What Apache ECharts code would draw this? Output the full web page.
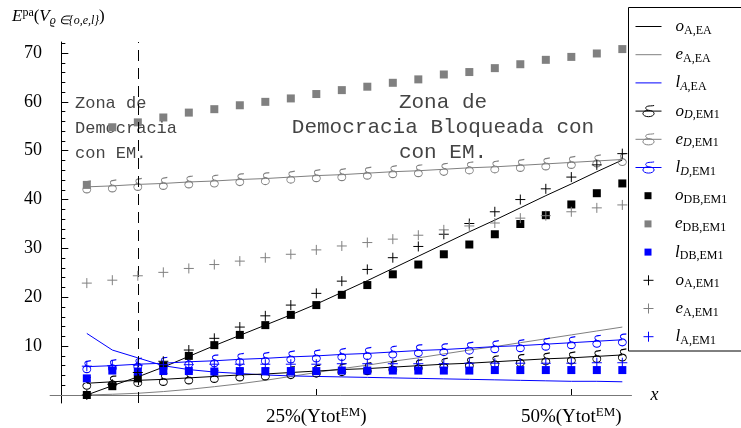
<!DOCTYPE html>
<html>
<head>
<meta charset="utf-8">
<script src="https://cdn.jsdelivr.net/npm/echarts@6/dist/echarts.min.js"></script>
<style>
  html, body { margin: 0; padding: 0; background: #fff; }
  #main { width: 741px; height: 428px; }
</style>
</head>
<body>
<div id="main"></div>
<script>
// x positions (% of Ytot^EM)
const xPct = [2.5, 5, 7.5, 10, 12.5, 15, 17.5, 20, 22.5, 25, 27.5, 30, 32.5, 35, 37.5, 40, 42.5, 45, 47.5, 50, 52.5, 55]
const zoneLimit = 7.5
const xTickValues = [25, 50]
const yTickValues = [10, 20, 30, 40, 50, 60, 70]
const yMinorValues = [2, 4, 6, 8, 12, 14, 16, 18, 22, 24, 26, 28, 32, 34, 36, 38, 42, 44, 46, 48, 52, 54, 56, 58, 62, 64, 66, 68, 72]

// EA curves (lines only)
const oAEA = [0, 1.9, 3.7, 5.7, 7.9, 10.1, 12.2, 14.3, 16.4, 18.6, 21.0, 23.4, 25.9, 28.4, 30.9, 33.4, 35.8, 38.3, 40.8, 43.2, 45.7, 48.1]
const eAEA = [0, 0.15, 0.35, 0.7, 1.15, 1.7, 2.3, 3.0, 3.8, 4.6, 5.4, 6.1, 6.9, 7.6, 8.4, 9.2, 9.9, 10.7, 11.5, 12.3, 13.1, 13.9]
const lAEA = [12.6, 9.2, 7.6, 6.0, 5.2, 4.7, 4.4, 4.1, 3.9, 3.8, 3.7, 3.6, 3.5, 3.4, 3.3, 3.2, 3.1, 3.0, 2.9, 2.8, 2.8, 2.7]
// D, EM1 (line + delta)
const oDEM1 = [2.4, 2.7, 3.0, 3.2, 3.5, 3.8, 4.1, 4.3, 4.6, 4.9, 5.2, 5.4, 5.7, 6.0, 6.3, 6.5, 6.8, 7.1, 7.4, 7.6, 7.9, 8.2]
const eDEM1 = [42.6, 42.8, 43.1, 43.3, 43.6, 43.8, 44.1, 44.3, 44.6, 44.9, 45.1, 45.4, 45.7, 45.9, 46.2, 46.5, 46.7, 47.0, 47.3, 47.6, 47.9, 48.2]
const lDEM1 = [5.8, 6.0, 6.3, 6.5, 6.8, 7.0, 7.3, 7.5, 7.8, 8.0, 8.3, 8.5, 8.8, 9.1, 9.3, 9.6, 9.9, 10.1, 10.4, 10.7, 11.0, 11.3]
// DB, EM1 (squares)
const oDBEM1 = [0, 1.8, 3.4, 6.0, 8.0, 10.2, 12.3, 14.3, 16.4, 18.4, 20.5, 22.5, 24.7, 26.7, 28.8, 30.8, 32.9, 35.0, 36.8, 39.0, 41.3, 43.3]
const eDBEM1 = [43.0, 54.8, 55.8, 56.8, 57.8, 58.5, 59.3, 60.0, 60.7, 61.6, 62.4, 63.1, 63.9, 64.6, 65.6, 66.1, 66.9, 67.7, 68.6, 69.2, 69.9, 70.8]
const lDBEM1 = [3.4, 5.0, 4.8, 4.9, 4.9, 4.8, 4.9, 4.9, 4.9, 4.9, 5.0, 5.0, 5.0, 5.0, 5.0, 5.0, 5.1, 5.1, 5.1, 5.1, 5.1, 5.1]
// A, EM1 (crosses)
const oAEM1 = [0, 2.2, 4.6, 6.9, 9.2, 11.6, 13.9, 16.2, 18.4, 20.8, 23.3, 25.7, 28.1, 30.4, 32.9, 35.1, 37.5, 40.0, 42.2, 44.6, 47.1, 49.4]
const eAEM1 = [22.9, 23.5, 24.4, 25.1, 25.9, 26.7, 27.4, 28.1, 28.8, 29.7, 30.5, 31.2, 31.9, 32.7, 33.8, 34.6, 35.2, 36.2, 36.7, 37.5, 38.3, 38.9]
const lAEM1 = [5.9, 6.0, 6.1, 6.2, 6.2, 6.3, 6.3, 6.3, 6.3, 6.3, 6.4, 6.4, 6.4, 6.4, 6.4, 6.5, 6.5, 6.5, 6.5, 6.5, 6.6, 6.6]

const seriesNames = ['oAEA', 'eAEA', 'lAEA', 'oDEM1', 'eDEM1', 'lDEM1', 'oDBEM1', 'eDBEM1', 'lDBEM1', 'oAEM1', 'eAEM1', 'lAEM1']
const legendLabels = [
  '{m|o}{s|A,EA}', '{m|e}{s|A,EA}', '{m|l}{si|A}{s|,EA}',
  '{m|o}{si|D}{s|,EM1}', '{m|e}{si|D}{s|,EM1}', '{m|l}{si|D}{s|,EM1}',
  '{m|o}{s|DB,EM1}', '{m|e}{s|DB,EM1}', '{m|l}{s|DB,EM1}',
  '{m|o}{s|A,EM1}', '{m|e}{s|A,EM1}', '{m|l}{s|A,EM1}',
]

const BLACK = '#000000'
const GRAY = '#808080'
const BLUE = '#0000ff'
const SERIF = '"Liberation Serif", "Times New Roman", serif'
const DELTA = 'path://M5,6.5 C6.93,6.5 8.5,8.07 8.5,10 C8.5,11.93 6.93,13.5 5,13.5 C3.07,13.5 1.5,11.93 1.5,10 C1.5,8.07 3.07,6.5 5,6.5 Z M5,6.5 C3,5.5 2.5,3 4.5,2 C5.5,1.5 7,1.8 8.5,1.2'
const PLUS = 'path://M0,5 L10,5 M5,0 L5,10'

const pairs = (ys) => xPct.map((x, i) => [x, ys[i]])

const plainLine = (name, ys, color) => ({
  name: name,
  type: 'line',
  data: pairs(ys),
  symbol: 'none',
  lineStyle: { color: color, width: 1 },
  itemStyle: { color: color },
  z: 2,
})

const deltaLine = (name, ys, color) => ({
  name: name,
  type: 'line',
  data: pairs(ys),
  symbol: DELTA,
  symbolSize: [8, 12],
  showAllSymbol: true,
  lineStyle: { color: color, width: 1 },
  itemStyle: { color: 'rgba(0,0,0,0)', borderColor: color, borderWidth: 1 },
  z: 3,
})

const squares = (name, ys, color) => ({
  name: name,
  type: 'scatter',
  data: pairs(ys),
  symbol: 'rect',
  symbolSize: 8,
  itemStyle: { color: color, opacity: 1 },
  z: 4,
})

const crosses = (name, ys, color) => ({
  name: name,
  type: 'scatter',
  data: pairs(ys),
  symbol: PLUS,
  symbolSize: 10,
  itemStyle: { color: 'rgba(0,0,0,0)', borderColor: color, borderWidth: 1, opacity: 1 },
  z: 5,
})

const series = [
  plainLine('oAEA', oAEA, BLACK),
  plainLine('eAEA', eAEA, GRAY),
  plainLine('lAEA', lAEA, BLUE),
  deltaLine('oDEM1', oDEM1, BLACK),
  deltaLine('eDEM1', eDEM1, GRAY),
  deltaLine('lDEM1', lDEM1, BLUE),
  squares('oDBEM1', oDBEM1, BLACK),
  squares('eDBEM1', eDBEM1, GRAY),
  squares('lDBEM1', lDBEM1, BLUE),
  crosses('oAEM1', oAEM1, BLACK),
  crosses('eAEM1', eAEM1, GRAY),
  crosses('lAEM1', lAEM1, BLUE),
]

// dashed border of the left zone
series[0].markLine = {
  silent: true,
  symbol: ['none', 'none'],
  label: { show: false },
  lineStyle: { color: BLACK, width: 1, type: [11, 7] },
  data: [{ xAxis: zoneLimit }],
}

// legend: one component per row, icon centred at x=648, text starting at x=675
const ICON_CX = 648
const TEXT_X = 675
const legends = seriesNames.map((name, k) => {
  const s = series[k]
  let kind = 'plain'
  if (s.type === 'line' && s.symbol !== 'none') kind = 'delta'
  if (s.type === 'scatter') kind = s.symbol === 'rect' ? 'square' : 'cross'
  const w = kind === 'square' ? 7 : (kind === 'cross' ? 10 : 26)
  const h = kind === 'square' ? 7 : (kind === 'cross' ? 10 : 14)
  const left = ICON_CX - w / 2
  const pad = TEXT_X - (left + w + 5)
  let itemStyle = { borderWidth: 1 }
  if (kind === 'plain') itemStyle = { color: 'rgba(0,0,0,0)', borderWidth: 0, opacity: 0 }
  if (kind === 'square') itemStyle = { borderWidth: 0 }
  return {
    orient: 'vertical',
    left: left,
    top: 25 + 28.2 * k - 10 + 3,
    padding: 0,
    itemWidth: w,
    itemHeight: h,
    selectedMode: false,
    data: [name],
    formatter: (n) => legendLabels[seriesNames.indexOf(n)],
    textStyle: {
      rich: {
        m: { fontFamily: SERIF, fontStyle: 'italic', fontSize: 17, lineHeight: 20, color: '#000', padding: [0, 0, 0, pad] },
        s: { fontFamily: SERIF, fontSize: 12, lineHeight: 12, color: '#000', verticalAlign: 'bottom' },
        si: { fontFamily: SERIF, fontStyle: 'italic', fontSize: 12, lineHeight: 12, color: '#000', verticalAlign: 'bottom' },
      },
    },
    lineStyle: { width: 1 },
    itemStyle: itemStyle,
  }
})

// y-axis title pieces, measured so the closing brace follows the subscript
const measureCtx = document.createElement('canvas').getContext('2d')
const textW = (font, txt) => { measureCtx.font = font; return measureCtx.measureText(txt).width }
const F_MAIN_I = 'italic 17px "Liberation Serif"'
const F_MAIN = '17px "Liberation Serif"'
const F_SUP = '12px "Liberation Serif"'
const F_SUB = 'italic 12px "Liberation Serif"'
const subText = 'ϱ ∈{o,e,l'
const titleX = 12
const braceX = titleX + textW(F_MAIN_I, 'E') + textW(F_SUP, 'pa') + textW(F_MAIN, '(') + textW(F_MAIN_I, 'V') + textW(F_SUB, subText)
const parenX = braceX + textW(F_SUB, '}')

const chartDom = document.getElementById('main')
const myChart = echarts.init(chartDom, null, { renderer: 'canvas' })

const option = {
  animation: false,
  backgroundColor: '#fff',
  grid: {
    left: 50.1,
    right: 109.5,
    top: 42,
    bottom: 25,
    containLabel: false,
    outerBoundsMode: 'none',
  },
  legend: legends,
  xAxis: {
    type: 'value',
    min: -1.1,
    max: 55.9,
    name: 'x',
    nameLocation: 'end',
    nameGap: 19,
    nameTextStyle: { fontFamily: SERIF, fontStyle: 'italic', fontSize: 18, color: '#000' },
    axisLine: { onZero: true, lineStyle: { color: '#777', width: 1 } },
    axisTick: { inside: true, length: 6, customValues: xTickValues, lineStyle: { color: '#000' } },
    axisLabel: {
      customValues: xTickValues,
      margin: 3,
      formatter: (v) => '{a|' + v + '%(Ytot}{b|EM}{a|)}',
      rich: {
        a: { fontFamily: SERIF, fontSize: 19, lineHeight: 22, color: '#000' },
        b: { fontFamily: SERIF, fontSize: 13, lineHeight: 13, color: '#000', verticalAlign: 'top' },
      },
    },
    splitLine: { show: false },
  },
  yAxis: [
    {
      type: 'value',
      min: -1.64,
      max: 72.25,
      position: 'left',
      axisLine: { onZero: true, onZeroAxisIndex: 0, lineStyle: { color: '#000', width: 1 } },
      axisTick: { inside: true, length: 7, customValues: yTickValues, lineStyle: { color: '#000' } },
      axisLabel: { customValues: yTickValues, margin: 8, fontFamily: SERIF, fontSize: 18, color: '#000' },
      splitLine: { show: false },
    },
    {
      type: 'value',
      min: -1.64,
      max: 72.25,
      position: 'left',
      axisLine: { show: false, onZero: true, onZeroAxisIndex: 0 },
      axisTick: { inside: true, length: 4, customValues: yMinorValues, lineStyle: { color: '#000' } },
      axisLabel: { show: false },
      splitLine: { show: false },
    },
  ],
  graphic: [
    {
      type: 'rect',
      shape: { x: 628.5, y: 7.5, width: 120, height: 343.5 },
      style: { fill: 'none', stroke: '#000', lineWidth: 1 },
      silent: true,
    },
    {
      type: 'text',
      x: titleX,
      y: 7,
      style: {
        text: '{i|E}{sup|pa}{n|(}{i|V}{sub|' + subText + '}',
        rich: {
          i: { fontFamily: SERIF, fontStyle: 'italic', fontSize: 17, lineHeight: 20, fill: '#000' },
          n: { fontFamily: SERIF, fontSize: 17, lineHeight: 20, fill: '#000' },
          sup: { fontFamily: SERIF, fontSize: 12, lineHeight: 12, fill: '#000', verticalAlign: 'top' },
          sub: { fontFamily: SERIF, fontStyle: 'italic', fontSize: 12, lineHeight: 12, fill: '#000', verticalAlign: 'bottom' },
        },
      },
    },
    {
      type: 'text',
      x: braceX,
      y: 15,
      style: { text: '}', fontFamily: SERIF, fontStyle: 'italic', fontSize: 12, lineHeight: 12, fill: '#000' },
    },
    {
      type: 'text',
      x: parenX,
      y: 7,
      style: { text: ')', fontFamily: SERIF, fontSize: 17, lineHeight: 20, fill: '#000' },
    },
    {
      type: 'text',
      x: 75,
      y: 91,
      style: {
        text: 'Zona de\nDemocracia\ncon EM.',
        fontFamily: '"Liberation Mono", "Courier New", monospace',
        fontSize: 17,
        lineHeight: 25,
        fill: '#444',
      },
    },
    {
      type: 'text',
      x: 443,
      y: 89.5,
      style: {
        text: 'Zona de\nDemocracia Bloqueada con\ncon EM.',
        fontFamily: '"Liberation Mono", "Courier New", monospace',
        fontSize: 21,
        lineHeight: 25,
        align: 'center',
        fill: '#444',
      },
    },
  ],
  series: series,
}

option && myChart.setOption(option)

window.addEventListener('resize', function () {
  myChart.resize()
})
</script>
</body>
</html>
